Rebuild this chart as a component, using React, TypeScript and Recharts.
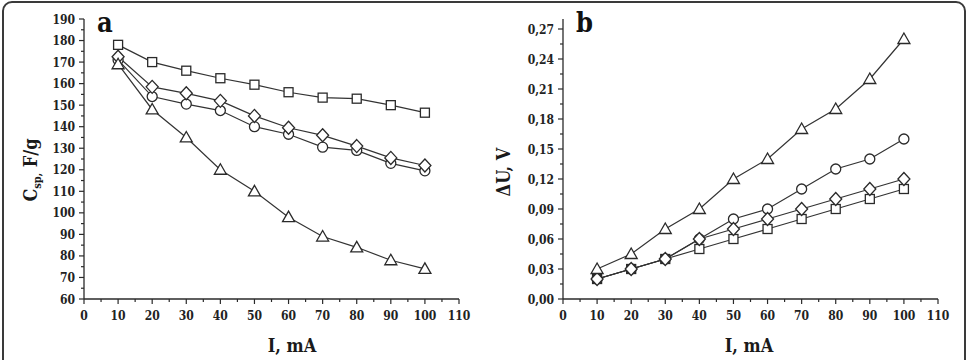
import { LineChart, Line, XAxis, YAxis, Label } from "recharts"

// discharge current, mA
const currents = [10, 20, 30, 40, 50, 60, 70, 80, 90, 100]

// specific capacitance, F/g
const cspSquare = [178, 170, 166, 162.5, 159.5, 156, 153.5, 153, 150, 146.5]
const cspDiamond = [172.5, 158.5, 155.5, 152, 145, 139.5, 136, 131, 125.5, 122]
const cspCircle = [171, 154, 150.5, 147.5, 140, 136.5, 130.5, 129, 123, 119.5]
const cspTriangle = [169, 148, 135, 120, 110, 98, 89, 84, 78, 74]

// IR drop, V
const duTriangle = [0.03, 0.045, 0.07, 0.09, 0.12, 0.14, 0.17, 0.19, 0.22, 0.26]
const duCircle = [0.02, 0.03, 0.04, 0.06, 0.08, 0.09, 0.11, 0.13, 0.14, 0.16]
const duDiamond = [0.02, 0.03, 0.04, 0.06, 0.07, 0.08, 0.09, 0.1, 0.11, 0.12]
const duSquare = [0.02, 0.03, 0.04, 0.05, 0.06, 0.07, 0.08, 0.09, 0.1, 0.11]

const xMajor = [0, 10, 20, 30, 40, 50, 60, 70, 80, 90, 100, 110]
const cspMajor = [60, 70, 80, 90, 100, 110, 120, 130, 140, 150, 160, 170, 180, 190]
const duMajor = [0, 0.03, 0.06, 0.09, 0.12, 0.15, 0.18, 0.21, 0.24, 0.27]

const capData = currents.map((I, i) => ({
  I,
  sq: cspSquare[i],
  di: cspDiamond[i],
  ci: cspCircle[i],
  tr: cspTriangle[i],
}))

const dropData = currents.map((I, i) => ({
  I,
  sq: duSquare[i],
  di: duDiamond[i],
  ci: duCircle[i],
  tr: duTriangle[i],
}))

// majors plus a minor tick halfway between each pair
const withMinors = (major: number[], step: number) => {
  const out: number[] = []
  major.forEach((v, i) => {
    out.push(v)
    if (i < major.length - 1) out.push(+(v + step / 2).toFixed(4))
  })
  return out
}

const INK = "#2a2a2a"
const FONT = "'DejaVu Serif Condensed', 'DejaVu Serif', serif"

type Kind = "square" | "diamond" | "circle" | "triangle"

function Marker({ cx, cy, kind }: { cx: number; cy: number; kind: Kind }) {
  const common = { fill: "#fff", stroke: INK, strokeWidth: 1.3 }
  if (kind === "square") return <rect x={cx - 4.5} y={cy - 4.5} width={9} height={9} {...common} />
  if (kind === "circle") return <circle cx={cx} cy={cy} r={5} {...common} />
  if (kind === "diamond")
    return <polygon points={`${cx},${cy - 6.5} ${cx + 6},${cy} ${cx},${cy + 6.5} ${cx - 6},${cy}`} {...common} />
  return <polygon points={`${cx},${cy - 6} ${cx + 6},${cy + 4.5} ${cx - 6},${cy + 4.5}`} {...common} />
}

const dotFor = (kind: Kind) => (p: any) => <Marker key={`${kind}-${p.index}`} cx={p.cx} cy={p.cy} kind={kind} />

const isMajor = (v: number, majors: number[]) => majors.some((m) => Math.abs(m - v) < 1e-6)

function XTick({ x, y, payload }: any) {
  const major = isMajor(payload.value, xMajor)
  return (
    <g>
      <line x1={x} x2={x} y1={y} y2={y + (major ? 5 : 3)} stroke={INK} strokeWidth={1.2} />
      {major && (
        <text x={x} y={y + 21} textAnchor="middle" fontFamily={FONT} fontWeight="bold" fontSize={12} fill="#222">
          {payload.value}
        </text>
      )}
    </g>
  )
}

const makeYTick = (majors: number[], fmt: (v: number) => string) =>
  function YTick({ x, y, payload }: any) {
    const major = isMajor(payload.value, majors)
    return (
      <g>
        <line x1={x - (major ? 5 : 3)} x2={x} y1={y} y2={y} stroke={INK} strokeWidth={1.2} />
        {major && (
          <text x={x - 9} y={y + 4.5} textAnchor="end" fontFamily={FONT} fontWeight="bold" fontSize={12} fill="#222">
            {fmt(payload.value)}
          </text>
        )}
      </g>
    )
  }

const CapTick = makeYTick(cspMajor, (v) => String(v))
const DropTick = makeYTick(duMajor, (v) => v.toFixed(2).replace(".", ","))

const titleStyle = { fontFamily: FONT, fontWeight: "bold" as const, fill: "#1a1a1a" }

const series: { key: "sq" | "ci" | "di" | "tr"; kind: Kind }[] = [
  { key: "sq", kind: "square" },
  { key: "ci", kind: "circle" },
  { key: "di", kind: "diamond" },
  { key: "tr", kind: "triangle" },
]

function Panel({
  data,
  left,
  width,
  yDomain,
  yTicks,
  yTick,
  yTitle,
  letter,
}: {
  data: any[]
  left: number
  width: number
  yDomain: [number, number]
  yTicks: number[]
  yTick: any
  yTitle: React.ReactNode
  letter: string
}) {
  return (
    <div style={{ position: "absolute", left, top: 0 }}>
      <LineChart width={width} height={360} data={data} margin={{ top: 19, right: width - 459, bottom: 31, left: 0 }}>
        <XAxis
          dataKey="I"
          type="number"
          domain={[0, 110]}
          ticks={withMinors(xMajor, 10)}
          interval={0}
          tick={<XTick />}
          tickLine={false}
          tickSize={0}
          tickMargin={0}
          height={30}
          axisLine={{ stroke: INK, strokeWidth: 1.3 }}
        >
          <Label
            content={() => (
              <text x={width === 480 ? 292 : 270} y={352} textAnchor="middle" fontSize={18} {...titleStyle}>
                I, mA
              </text>
            )}
          />
        </XAxis>
        <YAxis
          type="number"
          domain={yDomain}
          ticks={yTicks}
          interval={0}
          tick={yTick}
          tickLine={false}
          tickSize={0}
          tickMargin={0}
          width={84}
          axisLine={{ stroke: INK, strokeWidth: 1.3 }}
        >
          <Label content={() => <g>{yTitle}</g>} />
        </YAxis>
        {series.map((s) => (
          <Line
            key={s.key}
            type="linear"
            dataKey={s.key}
            stroke="#333"
            strokeWidth={1.2}
            dot={dotFor(s.kind)}
            activeDot={false}
            isAnimationActive={false}
          />
        ))}
      </LineChart>
      <div
        style={{
          position: "absolute",
          left: 97,
          top: 8,
          fontFamily: FONT,
          fontWeight: "bold",
          fontSize: 27,
          color: "#111",
          lineHeight: "30px",
        }}
      >
        {letter}
      </div>
    </div>
  )
}

export default function App() {
  return (
    <div
      style={{
        position: "absolute",
        left: 0,
        top: 0,
        width: 969,
        height: 360,
        overflow: "hidden",
        background: "#fff",
      }}
    >
      <div
        style={{
          position: "absolute",
          left: 2,
          top: 1,
          width: 960,
          height: 400,
          border: "2px solid #3a3a3a",
          borderRadius: 10,
        }}
      />
      <Panel
        data={capData}
        left={0}
        width={480}
        yDomain={[60, 190]}
        yTicks={withMinors(cspMajor, 10)}
        yTick={<CapTick />}
        letter="a"
        yTitle={
          <text transform="translate(37,170) rotate(-90)" textAnchor="middle" fontSize={18} {...titleStyle}>
            C<tspan fontSize={11} dy={4}>sp,</tspan>
            <tspan dy={-4}> F/g</tspan>
          </text>
        }
      />
      <Panel
        data={dropData}
        left={479}
        width={490}
        yDomain={[0, 0.28]}
        yTicks={withMinors(duMajor, 0.03)}
        yTick={<DropTick />}
        letter="b"
        yTitle={
          <text transform="translate(31,172) rotate(-90)" textAnchor="middle" fontSize={18} {...titleStyle}>
            ΔU, V
          </text>
        }
      />
    </div>
  )
}
